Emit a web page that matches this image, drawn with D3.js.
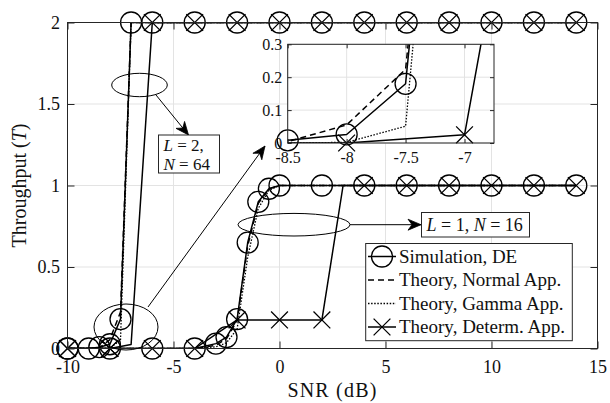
<!DOCTYPE html>
<html>
<head>
<meta charset="utf-8">
<script src="https://cdn.jsdelivr.net/npm/d3@7"></script>
<style>
  body { margin: 0; background: #fff; }
  svg { display: block; font-family: "Liberation Serif", "DejaVu Serif", serif; }
</style>
</head>
<body>
<div id="chart"></div>
<script>
// axis ticks
const xTicks = [-10, -5, 0, 5, 10, 15];
const yTicks = [0, 0.5, 1, 1.5, 2];
const xTicksInset = [-8.5, -8, -7.5, -7];
const yTicksInset = [0, 0.1, 0.2, 0.3];

// L = 2, N = 64
const snrL2 = [-10, -9, -8.5, -8, -7.5, -7, -6, -4, -2, 0, 2, 4, 6, 8, 10, 12, 14];
const simL2 = [0, 0, 0.008, 0.026, 0.18, 2, 2, 2, 2, 2, 2, 2, 2, 2, 2, 2, 2];
const normalL2 = [0, 0, 0.004, 0.055, 0.224, 2, 2, 2, 2, 2, 2, 2, 2, 2, 2, 2, 2];
const gammaL2 = [0, 0, 0, 0.002, 0.051, 2, 2, 2, 2, 2, 2, 2, 2, 2, 2, 2, 2];
const snrDetL2 = [-10, -8, -7, -6, -4, -2, 0, 2, 4, 6, 8, 10, 12, 14];
const detL2 = [0, 0, 0.025, 2, 2, 2, 2, 2, 2, 2, 2, 2, 2, 2];

// L = 1, N = 16
const snrL1 = [-10, -8, -6, -4, -3, -2.5, -2, -1.5, -1, -0.5, 0, 2, 4, 6, 8, 10, 12, 14];
const simL1 = [0, 0, 0, 0, 0.03, 0.07, 0.18, 0.65, 0.9, 0.98, 1, 1, 1, 1, 1, 1, 1, 1];
const normalL1 = [0, 0, 0, 0, 0.02, 0.06, 0.17, 0.63, 0.89, 0.98, 1, 1, 1, 1, 1, 1, 1, 1];
const gammaL1 = [0, 0, 0, 0, 0.01, 0.035, 0.12, 0.56, 0.86, 0.97, 1, 1, 1, 1, 1, 1, 1, 1];
const snrDetL1 = [-10, -8, -6, -4, -2, 0, 2, 3, 4, 6, 8, 10, 12, 14];
const detL1 = [0, 0, 0, 0, 0.175, 0.175, 0.175, 1, 1, 1, 1, 1, 1, 1];

const legendLabels = ["Simulation, DE", "Theory, Normal App.", "Theory, Gamma App.", "Theory, Determ. App."];

const width = 610, height = 403;
const ink = "#000";
const axisCol = "#262626";
const gridCol = "#e3e3e3";
const serif = "'Liberation Serif', 'DejaVu Serif', serif";

const svg = d3.select("#chart").append("svg")
    .attr("width", width)
    .attr("height", height)
    .attr("font-family", serif);

const defs = svg.append("defs");

// main scales
const x = d3.scaleLinear().domain([-10, 15]).range([67.5, 597.5]);
const y = d3.scaleLinear().domain([0, 2]).range([348.5, 22.5]);

// inset scales
const xi = d3.scaleLinear().domain([-8.5, -6.75]).range([287.7, 494]);
const yi = d3.scaleLinear().domain([0, 0.3]).range([143, 44.3]);

const styles = {
    solid: { dash: null, w: 1.5 },
    dash: { dash: "6,4", w: 1.5 },
    dot: { dash: "1.5,1.6", w: 1.3 }
};

const series = [
    { xs: snrL2, ys: simL2, style: "solid", marker: "o", group: 2 },
    { xs: snrL2, ys: normalL2, style: "dash", group: 2 },
    { xs: snrL2, ys: gammaL2, style: "dot", group: 2 },
    { xs: snrDetL2, ys: detL2, style: "solid", marker: "x", group: 2, hideMain: [-7] },
    { xs: snrL1, ys: simL1, style: "solid", marker: "o", group: 1 },
    { xs: snrL1, ys: normalL1, style: "dash", group: 1 },
    { xs: snrL1, ys: gammaL1, style: "dot", group: 1 },
    { xs: snrDetL1, ys: detL1, style: "solid", marker: "x", group: 1, hideMain: [3] }
];

function drawMarker(g, type, cx, cy, r) {
    if (type === "o") {
        g.append("circle").attr("cx", cx).attr("cy", cy).attr("r", r)
            .attr("fill", "none").attr("stroke", ink).attr("stroke-width", 1.3);
    } else {
        const s = r * 0.8;
        g.append("path")
            .attr("d", `M${cx - s},${cy - s}L${cx + s},${cy + s}M${cx - s},${cy + s}L${cx + s},${cy - s}`)
            .attr("stroke", ink).attr("stroke-width", 1.3).attr("fill", "none");
    }
}

// draws one axes box with grid, ticks, data
function drawAxes(opt) {
    const { sx, sy, xt, yt, list, clipId, fontSize, tick, padX, padY, inset } = opt;
    const [x0, x1] = sx.range();
    const [y0, y1] = sy.range();
    const g = svg.append("g");

    g.append("rect")
        .attr("x", x0).attr("y", y1)
        .attr("width", x1 - x0).attr("height", y0 - y1)
        .attr("fill", "#fff");

    // grid
    g.append("g").selectAll("line").data(xt).join("line")
        .attr("x1", d => sx(d)).attr("x2", d => sx(d))
        .attr("y1", y0).attr("y2", y1)
        .attr("stroke", gridCol).attr("stroke-width", 1);
    g.append("g").selectAll("line").data(yt).join("line")
        .attr("x1", x0).attr("x2", x1)
        .attr("y1", d => sy(d)).attr("y2", d => sy(d))
        .attr("stroke", gridCol).attr("stroke-width", 1);

    defs.append("clipPath").attr("id", clipId)
        .append("rect")
        .attr("x", x0).attr("y", y1)
        .attr("width", x1 - x0).attr("height", y0 - y1);

    const line = d3.line().x(d => sx(d[0])).y(d => sy(d[1]));

    const lines = g.append("g").attr("clip-path", `url(#${clipId})`);
    list.forEach(s => {
        const pts = s.xs.map((v, i) => [v, s.ys[i]]);
        lines.append("path")
            .attr("d", line(pts))
            .attr("fill", "none")
            .attr("stroke", ink)
            .attr("stroke-width", styles[s.style].w)
            .attr("stroke-dasharray", styles[s.style].dash)
            .attr("stroke-linejoin", "round");
    });

    const marks = g.append("g");
    const [dx0, dx1] = sx.domain();
    const [dy0, dy1] = sy.domain();
    list.forEach(s => {
        if (!s.marker) return;
        s.xs.forEach((v, i) => {
            const w = s.ys[i];
            if (!inset && s.hideMain && s.hideMain.includes(v)) return;
            if (v < dx0 - 1e-9 || v > dx1 || w < dy0 || w > dy1) return;
            drawMarker(marks, s.marker, sx(v), sy(w), 10.5);
        });
    });

    // ticks on all four sides, pointing inward
    const fmt = d => String(d);
    const ax = g.append("g").attr("transform", `translate(0,${y0})`)
        .call(d3.axisBottom(sx).tickValues(xt).tickSizeInner(-tick).tickSizeOuter(0).tickPadding(padX).tickFormat(fmt));
    const ay = g.append("g").attr("transform", `translate(${x0},0)`)
        .call(d3.axisLeft(sy).tickValues(yt).tickSizeInner(-tick).tickSizeOuter(0).tickPadding(padY).tickFormat(fmt));
    const at = g.append("g").attr("transform", `translate(0,${y1})`)
        .call(d3.axisTop(sx).tickValues(xt).tickSizeInner(-tick).tickSizeOuter(0).tickFormat(""));
    const ar = g.append("g").attr("transform", `translate(${x1},0)`)
        .call(d3.axisRight(sy).tickValues(yt).tickSizeInner(-tick).tickSizeOuter(0).tickFormat(""));
    [ax, ay, at, ar].forEach(a => {
        a.attr("font-family", serif).attr("font-size", fontSize);
        a.select(".domain").remove();
        a.selectAll("line").attr("stroke", axisCol);
        a.selectAll("text").attr("fill", "#111");
    });

    g.append("rect")
        .attr("x", x0).attr("y", y1)
        .attr("width", x1 - x0).attr("height", y0 - y1)
        .attr("fill", "none").attr("stroke", axisCol).attr("stroke-width", 1);

    return g;
}

drawAxes({ sx: x, sy: y, xt: xTicks, yt: yTicks, list: series, clipId: "clipMain",
    fontSize: 18, tick: 7, padX: 11.5, padY: 7.5, inset: false });

// axis labels
svg.append("text")
    .attr("x", (67.5 + 597.5) / 2).attr("y", 397)
    .attr("text-anchor", "middle")
    .attr("font-size", 20)
    .attr("letter-spacing", 1.2)
    .attr("fill", "#111")
    .text("SNR (dB)");

const yl = svg.append("text")
    .attr("transform", `translate(26,${(22.5 + 348.5) / 2}) rotate(-90)`)
    .attr("text-anchor", "middle")
    .attr("font-size", 20)
    .attr("fill", "#111");
yl.append("tspan").text("Throughput (");
yl.append("tspan").attr("font-style", "italic").text("T");
yl.append("tspan").text(")");

// annotations: ellipses and arrows
const ann = svg.append("g").attr("fill", "none").attr("stroke", ink).attr("stroke-width", 1);

const ellipses = [
    { cx: 139.5, cy: 85, rx: 27.8, ry: 11.7 },
    { cx: 126, cy: 327, rx: 32, ry: 23 },
    { cx: 294, cy: 224.7, rx: 56, ry: 11.3 }
];
ellipses.forEach(e => ann.append("ellipse")
    .attr("cx", e.cx).attr("cy", e.cy).attr("rx", e.rx).attr("ry", e.ry));

function arrow(x1, y1, x2, y2) {
    ann.append("line").attr("x1", x1).attr("y1", y1).attr("x2", x2).attr("y2", y2);
    const a = Math.atan2(y2 - y1, x2 - x1);
    const L = 13, hw = 5.5, notch = 9;
    const ux = Math.cos(a), uy = Math.sin(a);
    const px = -uy, py = ux;
    const bx = x2 - ux * L, by = y2 - uy * L;
    const nx = x2 - ux * notch, ny = y2 - uy * notch;
    svg.append("path")
        .attr("d", `M${x2},${y2}L${bx + px * hw},${by + py * hw}L${nx},${ny}L${bx - px * hw},${by - py * hw}Z`)
        .attr("fill", ink).attr("stroke", ink).attr("stroke-width", 0.8);
}
arrow(156, 95, 188.5, 135);
arrow(148, 307, 265, 146);
arrow(350, 224.7, 421, 224.7);

// text boxes
function mathText(g, xPos, yPos, parts, size) {
    const t = g.append("text").attr("x", xPos).attr("y", yPos)
        .attr("font-size", size).attr("fill", "#111");
    parts.forEach(p => t.append("tspan")
        .attr("font-style", p[1] ? "italic" : "normal")
        .text(p[0]));
}

const box1 = svg.append("g");
box1.append("rect").attr("x", 158.5).attr("y", 135).attr("width", 61).attr("height", 38)
    .attr("fill", "#fff").attr("stroke", axisCol).attr("stroke-width", 1);
mathText(box1, 163.5, 151, [["L", true], [" = 2,", false]], 17);
mathText(box1, 163.5, 169.5, [["N", true], [" = 64", false]], 17);

const box2 = svg.append("g");
box2.append("rect").attr("x", 421.5).attr("y", 212.5).attr("width", 108).attr("height", 24.5)
    .attr("fill", "#fff").attr("stroke", axisCol).attr("stroke-width", 1);
mathText(box2, 426.5, 230.5, [["L", true], [" = 1, ", false], ["N", true], [" = 16", false]], 18);

// legend
const legX = 365.7, legY = 243.5, legW = 206.6, legH = 97.2;
const leg = svg.append("g");
leg.append("rect").attr("x", legX).attr("y", legY).attr("width", legW).attr("height", legH)
    .attr("fill", "#fff").attr("stroke", axisCol).attr("stroke-width", 1);
const legRows = [
    { style: "solid", marker: "o" },
    { style: "dash" },
    { style: "dot" },
    { style: "solid", marker: "x" }
];
legRows.forEach((r, i) => {
    const cy = 256.5 + i * 23.5;
    leg.append("line")
        .attr("x1", 368).attr("x2", 396).attr("y1", cy).attr("y2", cy)
        .attr("stroke", ink)
        .attr("stroke-width", styles[r.style].w)
        .attr("stroke-dasharray", styles[r.style].dash);
    if (r.marker) drawMarker(leg, r.marker, 382, cy, 10.5);
    leg.append("text")
        .attr("x", 399).attr("y", cy + 6)
        .attr("font-size", 19)
        .attr("fill", "#111")
        .text(legendLabels[i]);
});

// inset (zoom of L = 2 curves)
drawAxes({ sx: xi, sy: yi, xt: xTicksInset, yt: yTicksInset,
    list: series.filter(s => s.group === 2), clipId: "clipInset",
    fontSize: 16, tick: 4, padX: 8.5, padY: 5.5, inset: true });
</script>
</body>
</html>
